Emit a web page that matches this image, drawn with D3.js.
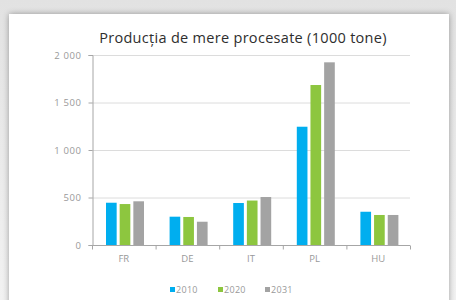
<!DOCTYPE html>
<html><head><meta charset="utf-8">
<script src="https://cdn.jsdelivr.net/npm/d3@7"></script>
<style>html,body{margin:0;padding:0;background:#ececec;}svg{display:block;}</style>
</head><body>
<script>
const categories = ["FR","DE","IT","PL","HU"];
const seriesNames = ["2010","2020","2031"];
const values2010 = [445, 298, 442, 1245, 350];
const values2020 = [431, 295, 468, 1684, 316];
const values2031 = [460, 245, 505, 1923, 316];
const yTicks = [0, 500, 1000, 1500, 2000];
const tickLabels = ["0","500","1 000","1 500","2 000"];
const colors = ["#00aeef","#8dc63f","#a3a3a3"];
const title = "Producția de mere procesate (1000 tone)";

const W = 456, H = 300;
const svg = d3.select("body").append("svg").attr("width", W).attr("height", H);
const defs = svg.append("defs");
const bg = defs.append("linearGradient").attr("id","bg").attr("x1",0).attr("y1",0).attr("x2",0).attr("y2",1);
bg.append("stop").attr("offset","0").attr("stop-color","#e2e2e2");
bg.append("stop").attr("offset","1").attr("stop-color","#f2f2f2");
svg.append("rect").attr("width",W).attr("height",H).attr("fill","url(#bg)");
const f = defs.append("filter").attr("id","sh").attr("x","-10%").attr("y","-10%").attr("width","120%").attr("height","120%");
f.append("feGaussianBlur").attr("in","SourceAlpha").attr("stdDeviation",3);
f.append("feOffset").attr("dx",0).attr("dy",0).attr("result","b");
f.append("feComponentTransfer").append("feFuncA").attr("type","linear").attr("slope",0.35);
const m = f.append("feMerge"); m.append("feMergeNode"); m.append("feMergeNode").attr("in","SourceGraphic");
svg.append("rect").attr("x",9).attr("y",14).attr("width",440).attr("height",300).attr("fill","#fff").attr("filter","url(#sh)");

const x0 = 92, x1 = 410, yTop = 55, yBot = 245;
const x = d3.scaleBand().domain(categories).range([x0, x1]).paddingInner(0).paddingOuter(0);
const y = d3.scaleLinear().domain([0, 2000]).range([yBot, yTop]);
const xs = d3.scaleBand().domain(seriesNames).range([14, 52]).paddingInner(0.22);

svg.append("text").attr("x", 243).attr("y", 43).attr("text-anchor","middle")
  .attr("font-family","'Open Sans', sans-serif").attr("font-size",14.5).attr("letter-spacing",0.3)
  .attr("fill","#2e2e2e").text(title);

// gridlines
svg.append("g").selectAll("line").data(yTicks.slice(1)).join("line")
  .attr("x1", x0).attr("x2", x1).attr("y1", d=>y(d)+0.5).attr("y2", d=>y(d)+0.5)
  .attr("stroke","#dcdcdc").attr("stroke-width",1);

const data = [values2010, values2020, values2031];
const g = svg.append("g");
seriesNames.forEach((s, si) => {
  g.selectAll(null).data(categories).join("rect")
    .attr("x", c => x(c) + xs(s))
    .attr("width", xs.bandwidth())
    .attr("y", (c, i) => y(data[si][i]))
    .attr("height", (c, i) => yBot - y(data[si][i]))
    .attr("fill", colors[si]);
});

// y axis
const yAxis = d3.axisLeft(y).tickValues(yTicks).tickSize(4).tickFormat((d,i)=>tickLabels[i]);
const ya = svg.append("g").attr("transform",`translate(${x0+0.5},0)`).call(yAxis);
ya.select(".domain").attr("stroke","#a6a6a6");
ya.selectAll(".tick line").attr("stroke","#a6a6a6");
ya.selectAll(".tick text").attr("fill","#999").attr("font-family","'Open Sans', sans-serif")
  .attr("font-size",9.5).attr("letter-spacing",0.6).attr("dx",-4);

// x axis
const xa = svg.append("g").attr("transform",`translate(0,${yBot+0.5})`);
xa.append("line").attr("x1",x0).attr("x2",x1).attr("stroke","#a6a6a6");
const bounds = categories.map(c=>x(c)).concat([x1]);
xa.selectAll("line.t").data(bounds).join("line").attr("class","t")
  .attr("x1",d=>d+0.5).attr("x2",d=>d+0.5).attr("y1",0).attr("y2",4).attr("stroke","#a6a6a6");
xa.selectAll("text").data(categories).join("text")
  .attr("x", c => x(c) + x.bandwidth()/2).attr("y", 16).attr("text-anchor","middle")
  .attr("fill","#999").attr("font-family","'Open Sans', sans-serif").attr("font-size",9.5).text(c=>c);

// legend
const lg = svg.append("g");
const lx = [170, 218, 265];
seriesNames.forEach((s, i) => {
  lg.append("rect").attr("x", lx[i]).attr("y", 287).attr("width",5).attr("height",5).attr("fill",colors[i]);
  lg.append("text").attr("x", lx[i]+6).attr("y", 292.5).attr("fill","#999")
    .attr("font-family","'Open Sans', sans-serif").attr("font-size",9).attr("letter-spacing",0.3).text(s);
});
</script>
</body></html>
